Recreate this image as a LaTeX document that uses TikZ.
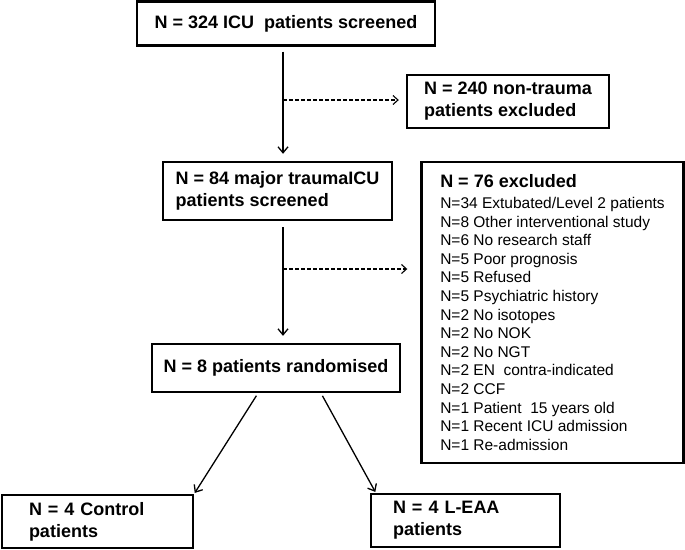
\documentclass[tikz,border=0pt]{standalone}
\usepackage{fontspec}
\setmainfont{Liberation Sans}
\usetikzlibrary{arrows.meta}
\tikzset{
  box/.style={draw,line width=2.4pt,align=left,inner sep=0pt,font=\bfseries\fontsize{18}{22}\selectfont},
  listfont/.style={font=\fontsize{15.5}{18.6}\selectfont},
  flow/.style={line width=1.3pt,-{Straight Barb[length=6pt,width=10pt]}},
  skip/.style={line width=1.1pt,dash pattern=on 4pt off 2pt,-{Straight Barb[length=5pt,width=9pt]}},
}

\begin{document}
\begin{tikzpicture}[x=1pt,y=-1pt]
\useasboundingbox (0,0) rectangle (685,549);
\node[box,minimum width=298,minimum height=44] (screened) at (286,23.5) {N = 324 ICU\ \ patients screened};
\node[box,minimum width=202,minimum height=53] (nontrauma) at (508,101.5) {N = 240 non-trauma\\patients excluded};
\node[box,minimum width=229,minimum height=58] (trauma) at (277.5,191) {N = 84 major traumaICU\\patients screened};
\node[box,listfont,minimum width=262,minimum height=301] (excluded) at (552.5,312.5) {%
{\bfseries\fontsize{18}{22}\selectfont N = 76 excluded}\\[2.4pt]
N=34 Extubated/Level 2 patients\\
N=8 Other interventional study\\
N=6 No research staff\\
N=5 Poor prognosis\\
N=5 Refused\\
N=5 Psychiatric history\\
N=2 No isotopes\\
N=2 No NOK\\
N=2 No NGT\\
N=2 EN\ \ contra-indicated\\
N=2 CCF\\
N=1 Patient\ \ 15 years old\\
N=1 Recent ICU admission\\
N=1 Re-admission};
\node[box,minimum width=248,minimum height=48] (random) at (276,368) {N = 8 patients randomised};
\node[box,minimum width=191,minimum height=53,text width=137,inner xsep=27] (control) at (97.5,521.5) {N = 4 Control\\patients};
\node[box,minimum width=189,minimum height=53,text width=145,inner xsep=22] (leaa) at (465.5,520.5) {N = 4 L-EAA\\patients};

\coordinate (trunk) at (283,0);
\coordinate (split1) at (283,100);
\coordinate (split2) at (283,269);
\draw[flow,shorten <=5pt,shorten >=7pt] (screened.south -| trunk) -- (trauma.north -| trunk);
\draw[flow,shorten <=6pt,shorten >=7pt] (trauma.south -| trunk) -- (random.north -| trunk);
\draw[skip,shorten >=7pt] (split1) -- (split1 -| nontrauma.west);
\draw[skip,shorten >=13pt] (split2) -- (split2 -| excluded.west);
\draw[flow,shorten <=3pt,shorten >=1pt] ([xshift=-18pt]random.south) -- (control.north east);
\draw[flow,shorten <=3pt,shorten >=1pt] ([xshift=45pt]random.south) -- ([xshift=6pt]leaa.north west);
\end{tikzpicture}
\end{document}
